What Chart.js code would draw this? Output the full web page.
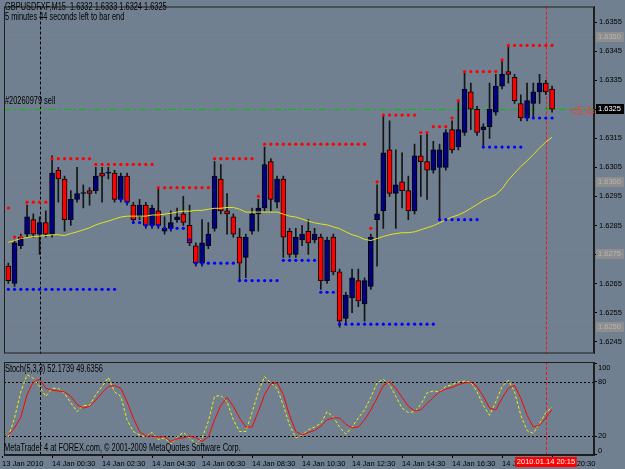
<!DOCTYPE html>
<html>
<head>
<meta charset="utf-8">
<script src="https://cdn.jsdelivr.net/npm/chart.js@4.4.1/dist/chart.umd.min.js"></script>
<style>
html, body { margin: 0; padding: 0; background: #708090; }
#wrap { position: relative; width: 625px; height: 469px; overflow: hidden; background: #708090; }
canvas { position: absolute; left: 0; }
#main { top: 0; }
#stoch { top: 358px; }
.t { position: absolute; font-family: 'Liberation Sans', sans-serif; font-size: 10px; line-height: 10px; color: #000;
     white-space: nowrap; transform: scaleX(0.74); transform-origin: 0 0; }
</style>
</head>
<body>
<div id="wrap">
  <canvas id="main" width="625" height="360"></canvas>
  <canvas id="stoch" width="625" height="111"></canvas>
  <div class="t" style="left:5px;top:2px">GBPUSDFXF,M15&nbsp; 1.6332 1.6333 1.6324 1.6325</div>
  <div class="t" style="left:5px;top:12px">5 minutes 44 seconds left to bar end</div>
  <div class="t" style="left:5px;top:96px">#20260979 sell</div>
  <div class="t" style="left:5px;top:364px">Stoch(5,3,3) 52.1739 49.6356</div>
  <div class="t" style="left:4px;top:443px">MetaTrader 4 at FOREX.com, © 2001-2009 MetaQuotes Software Corp.</div>
  <div style="position:absolute;left:570px;top:104px;width:24px;height:14px;overflow:hidden">
    <div class="t" style="left:0;top:0;font-size:13px;line-height:13px;color:#e84040;transform:scaleX(0.85)">&lt;5:44</div>
  </div>
</div>
<script>
// GBPUSD M15 candles, 13 Jan 22:45 .. 14 Jan 20:30
const opens = [1.6271,1.6265,1.6278,1.6282,1.6287,1.6282,1.6286,1.6282,1.6304,1.6301,
  1.6287,1.6294,1.6296,1.6297,1.6297,1.6303,1.6303,1.6303,1.6294,1.6302,
  1.6292,1.6288,1.6292,1.6285,1.6290,1.6283,1.6284,1.6287,1.6289,1.6285,
  1.6278,1.6272,1.6278,1.6284,1.6301,1.6290,1.6288,1.6281,1.6274,1.6283,
  1.6289,1.6291,1.6307,1.6293,1.6301,1.6283,1.6275,1.6280,1.6283,1.6280,
  1.6281,1.6266,1.6281,1.6269,1.6253,1.6260,1.6266,1.6258,1.6264,1.6287,
  1.6290,1.6311,1.6296,1.6300,1.6297,1.6290,1.6309,1.6307,1.6304,1.6305,
  1.6305,1.6318,1.6312,1.6317,1.6331,1.6325,1.6318,1.6319,1.6324,1.6333,
  1.6338,1.6336,1.6327,1.6322,1.6327,1.6331,1.6334,1.6332];
const highs = [1.6272,1.6280,1.6282,1.6292,1.6289,1.6288,1.6290,1.6309,1.6305,1.6302,
  1.6297,1.6305,1.6299,1.6298,1.6305,1.6305,1.6305,1.6304,1.6303,1.6303,
  1.6293,1.6294,1.6293,1.6292,1.6298,1.6288,1.6290,1.6291,1.6295,1.6292,
  1.6279,1.6287,1.6286,1.6307,1.6306,1.6296,1.6289,1.6284,1.6282,1.6291,
  1.6294,1.6312,1.6308,1.6302,1.6302,1.6284,1.6284,1.6285,1.6287,1.6284,
  1.6282,1.6281,1.6282,1.6270,1.6262,1.6270,1.6270,1.6267,1.6282,1.6299,
  1.6323,1.6321,1.6311,1.6310,1.6302,1.6313,1.6316,1.6317,1.6314,1.6313,
  1.6318,1.6321,1.6328,1.6338,1.6334,1.6326,1.6320,1.6334,1.6337,1.6342,
  1.6347,1.6337,1.6330,1.6334,1.6334,1.6337,1.6335,1.6333];
const lows = [1.6265,1.6264,1.6277,1.6281,1.6281,1.6275,1.6281,1.6281,1.6293,1.6283,
  1.6285,1.6293,1.6291,1.6292,1.6296,1.6293,1.6301,1.6293,1.6293,1.6292,
  1.6286,1.6287,1.6284,1.6284,1.6284,1.6282,1.6283,1.6286,1.6285,1.6278,
  1.6271,1.6271,1.6277,1.6283,1.6289,1.6282,1.6281,1.6266,1.6267,1.6282,
  1.6283,1.6290,1.6290,1.6291,1.6274,1.6274,1.6274,1.6278,1.6275,1.6279,
  1.6263,1.6265,1.6268,1.6250,1.6251,1.6255,1.6257,1.6252,1.6263,1.6271,
  1.6284,1.6295,1.6284,1.6291,1.6287,1.6289,1.6295,1.6294,1.6303,1.6287,
  1.6304,1.6310,1.6311,1.6316,1.6318,1.6316,1.6312,1.6315,1.6323,1.6332,
  1.6334,1.6327,1.6321,1.6321,1.6322,1.6327,1.6330,1.6324];
const closes = [1.6266,1.6279,1.6281,1.6288,1.6282,1.6286,1.6282,1.6303,1.6301,1.6287,
  1.6294,1.6296,1.6296,1.6296,1.6302,1.6302,1.6303,1.6294,1.6302,1.6293,
  1.6287,1.6292,1.6285,1.6291,1.6285,1.6284,1.6286,1.6288,1.6286,1.6279,
  1.6272,1.6279,1.6282,1.6302,1.6290,1.6289,1.6282,1.6272,1.6281,1.6289,
  1.6291,1.6306,1.6294,1.6301,1.6281,1.6275,1.6281,1.6282,1.6279,1.6282,
  1.6266,1.6280,1.6269,1.6252,1.6261,1.6267,1.6259,1.6266,1.6281,1.6289,
  1.6310,1.6296,1.6299,1.6297,1.6290,1.6309,1.6307,1.6304,1.6311,1.6311,
  1.6317,1.6311,1.6318,1.6332,1.6325,1.6317,1.6319,1.6325,1.6333,1.6337,
  1.6337,1.6328,1.6322,1.6328,1.6331,1.6334,1.6331,1.6325];

// yellow moving average
const maValues = [1.62792,1.62798,1.62805,1.62808,1.62812,1.62813,1.62815,1.62818,1.62818,1.62815,
  1.62822,1.62828,1.62835,1.62842,1.62852,1.62859,1.62865,1.62872,1.62879,1.62882,
  1.62882,1.62882,1.62882,1.62886,1.62886,1.62889,1.62892,1.62896,1.62899,1.62899,
  1.62902,1.62902,1.62906,1.62909,1.62909,1.62912,1.62912,1.62906,1.62896,1.62896,
  1.62896,1.62896,1.62896,1.62896,1.62889,1.62882,1.62879,1.62872,1.62865,1.62859,
  1.62855,1.62852,1.62845,1.62839,1.62828,1.62818,1.62812,1.62802,1.62798,1.62805,
  1.62812,1.62818,1.62822,1.62825,1.62825,1.62828,1.62835,1.62842,1.62849,1.62859,
  1.62869,1.62879,1.62886,1.62896,1.62909,1.62922,1.62936,1.62946,1.62956,1.62976,
  1.63006,1.63030,1.63053,1.63073,1.63094,1.63117,1.63137,1.63154];

// red (upper) and blue (lower) dotted levels, one value per bar
const resistance = [1.6291,1.6281,1.6281,1.6293,1.6293,1.6293,1.6293,1.6308,1.6308,1.6308,
  1.6308,1.6308,1.6308,1.6308,1.6306,1.6306,1.6306,1.6306,1.6306,1.6306,
  1.6306,1.6306,1.6306,1.6306,1.6298,1.6298,1.6298,1.6298,1.6298,1.6298,
  1.6298,1.6298,1.6298,1.6308,1.6308,1.6308,1.6308,1.6308,1.6308,1.6308,
  1.6295,1.6313,1.6313,1.6313,1.6313,1.6313,1.6313,1.6313,1.6313,1.6313,
  1.6313,1.6313,1.6313,1.6313,1.6313,1.6313,1.6313,1.6313,1.6284,1.6300,
  1.6323,1.6323,1.6323,1.6323,1.6323,1.6323,1.6317,1.6317,1.6319,1.6319,
  1.6319,1.6322,1.6328,1.6338,1.6338,1.6338,1.6338,1.6338,1.6338,1.6342,
  1.6347,1.6347,1.6347,1.6347,1.6347,1.6347,1.6347,1.6347];
const support = [1.6263,1.6263,1.6263,1.6263,1.6263,1.6263,1.6263,1.6263,1.6263,1.6263,
  1.6263,1.6263,1.6263,1.6263,1.6263,1.6263,1.6263,1.6263,1.6294,1.6293,
  1.6286,1.6286,1.6285,1.6285,1.6285,1.6284,1.6284,1.6284,1.6284,1.6280,
  1.6272,1.6272,1.6272,1.6272,1.6272,1.6272,1.6272,1.6266,1.6266,1.6266,
  1.6266,1.6266,1.6266,1.6266,1.6273,1.6273,1.6273,1.6273,1.6273,1.6273,
  1.6262,1.6262,1.6262,1.6251,1.6251,1.6251,1.6251,1.6251,1.6251,1.6251,
  1.6251,1.6251,1.6251,1.6251,1.6251,1.6251,1.6251,1.6251,1.6251,1.6287,
  1.6287,1.6287,1.6287,1.6287,1.6287,1.6287,1.6312,1.6312,1.6312,1.6312,
  1.6312,1.6312,1.6312,1.6322,1.6322,1.6322,1.6322,1.6322];

// Stoch(5,3,3)
const stochMain = [19,40,69,88,84,75,64,73,73,67,
  57,47,54,54,66,75,85,69,64,38,
  25,21,19,24,16,18,11,19,24,18,
  11,18,36,64,65,58,38,25,25,46,
  69,86,79,73,54,32,18,21,27,30,
  34,47,41,30,22,30,40,49,63,79,
  83,77,64,51,46,47,55,68,70,69,
  75,77,80,81,80,69,54,43,58,75,
  82,69,43,26,23,34,46,52.17];
const stochSignal = [21,29,41,66,80,83,73,71,70,69,
  64,55,51,53,60,68,75,76,73,58,
  40,25,20,20,19,19,14,17,18,20,
  18,14,19,38,54,63,53,40,30,30,
  47,66,78,79,66,43,25,21,24,26,
  31,38,40,40,33,29,30,38,49,62,
  76,80,73,63,53,48,49,56,63,69,
  72,74,77,79,80,75,64,51,49,62,
  73,76,62,43,30,32,40,49.64];

const priceTicks = [1.6245,1.6255,1.6265,1.6275,1.6285,1.6295,1.6305,1.6315,1.6325,1.6335,1.6345,1.6355];
const markedLevels = [1.6350,1.6300,1.6275,1.6250];
const orderPrice = 1.6325;
const stochTicks = [0,20,80,100];
const stochLevels = [20,80];
const timeTickIdx = [-1,7,15,23,31,39,47,55,63,71,79,87];
const timeLabels = ['13 Jan 2010','14 Jan 00:30','14 Jan 02:30','14 Jan 04:30','14 Jan 06:30','14 Jan 08:30',
  '14 Jan 10:30','14 Jan 12:30','14 Jan 14:30','14 Jan 16:30','14 Jan 18:30','14 Jan 20:30'];
const daySepIdx = 5;      // 14 Jan 00:00
const cursorIdx = 86;     // 20:15
const cursorLabel = '2010.01.14 20:15';

const xMin = -0.69, xMax = 93.71;
const FONT = "'Liberation Sans', sans-serif";
const idx = opens.map((_, i) => i);

function vline(ctx, a, px, color, dash) {
  ctx.strokeStyle = color; ctx.setLineDash(dash); ctx.lineWidth = 1;
  ctx.beginPath(); ctx.moveTo(px, a.top); ctx.lineTo(px, a.bottom); ctx.stroke();
}
function hline(ctx, a, py, color, dash) {
  ctx.strokeStyle = color; ctx.setLineDash(dash); ctx.lineWidth = 1;
  ctx.beginPath(); ctx.moveTo(a.left, py); ctx.lineTo(a.right, py); ctx.stroke();
}

const mainDecor = {
  id: 'mainDecor',
  beforeDatasetsDraw(chart) {
    const { ctx, chartArea: a, scales: { x, y } } = chart;
    ctx.save();
    markedLevels.forEach(v => hline(ctx, a, Math.round(y.getPixelForValue(v)) + 0.5, 'rgba(140,100,105,0.8)', [1, 3]));
    vline(ctx, a, Math.round(x.getPixelForValue(daySepIdx)) + 0.5, '#000', [3, 2]);
    vline(ctx, a, Math.round(x.getPixelForValue(cursorIdx)) + 0.5, '#ff1010', [3, 2]);
    hline(ctx, a, Math.round(y.getPixelForValue(orderPrice)) + 0.5, '#00c000', [7, 3, 2, 3]);
    ctx.restore();
  },
  afterDraw(chart) {
    const { ctx, chartArea: a, scales: { y } } = chart;
    ctx.save();
    ctx.strokeStyle = '#1e1e1e'; ctx.lineWidth = 1; ctx.setLineDash([]);
    ctx.strokeRect(a.left + 0.5, a.top + 0.5, a.right - a.left - 1, a.bottom - a.top - 1);
    ctx.font = '7.5px ' + FONT; ctx.textBaseline = 'middle'; ctx.textAlign = 'left';
    markedLevels.forEach(v => {
      const py = Math.round(y.getPixelForValue(v));
      ctx.fillStyle = '#8e8e8e'; ctx.fillRect(a.right + 2, py - 5, 28, 10);
      ctx.fillStyle = '#b4b4b4'; ctx.fillText(v.toFixed(4), a.right + 4, py);
    });
    const py = Math.round(y.getPixelForValue(closes[closes.length - 1]));
    ctx.fillStyle = '#000'; ctx.fillRect(a.right + 2, py - 5, 28, 10);
    ctx.fillStyle = '#fff'; ctx.fillText(closes[closes.length - 1].toFixed(4), a.right + 4, py);
    ctx.restore();
  }
};

new Chart(document.getElementById('main'), {
  type: 'bar',
  data: {
    datasets: [
      { type: 'scatter', data: idx.map(i => ({ x: i, y: resistance[i] })), pointRadius: 1.6, pointBorderWidth: 0,
        pointBackgroundColor: '#ff0000', order: 1 },
      { type: 'scatter', data: idx.map(i => ({ x: i, y: support[i] })), pointRadius: 1.6, pointBorderWidth: 0,
        pointBackgroundColor: '#0000ff', order: 1 },
      { type: 'line', data: idx.map(i => ({ x: i, y: maValues[i] })), borderColor: '#e4e41c', borderWidth: 1,
        pointRadius: 0, tension: 0, order: 2 },
      { type: 'bar', data: idx.map(i => ({ x: i, y: [opens[i], closes[i]] })),
        backgroundColor: idx.map(i => closes[i] >= opens[i] ? '#000080' : '#ff0000'),
        borderColor: '#000', borderWidth: 1, borderSkipped: false, barThickness: 5, minBarLength: 1,
        grouped: false, order: 3 },
      { type: 'bar', data: idx.map(i => ({ x: i, y: [lows[i], highs[i]] })), backgroundColor: '#141414',
        barThickness: 1, grouped: false, order: 4 }
    ]
  },
  options: {
    responsive: false,
    animation: false,
    events: [],
    plugins: { legend: { display: false }, tooltip: { enabled: false } },
    layout: { padding: { left: 4, top: 2, right: 0, bottom: 2 } },
    scales: {
      x: { type: 'linear', min: xMin, max: xMax, offset: false, display: false },
      y: {
        position: 'right', min: 1.62409, max: 1.63604,
        afterBuildTicks: s => { s.ticks = priceTicks.map(v => ({ value: v })); },
        afterFit: s => { s.width = 31; },
        ticks: { autoSkip: false, callback: v => v.toFixed(4), color: '#000', font: { family: FONT, size: 7.5 }, padding: 2 },
        grid: { drawOnChartArea: false, tickLength: 3, tickColor: '#000' },
        border: { color: '#1e1e1e' }
      }
    }
  },
  plugins: [mainDecor]
});

const stochDecor = {
  id: 'stochDecor',
  beforeDatasetsDraw(chart) {
    const { ctx, chartArea: a, scales: { x, y } } = chart;
    ctx.save();
    stochLevels.forEach(v => hline(ctx, a, Math.round(y.getPixelForValue(v)) + 0.5, '#000', [2, 2]));
    vline(ctx, a, Math.round(x.getPixelForValue(daySepIdx)) + 0.5, '#000', [3, 2]);
    vline(ctx, a, Math.round(x.getPixelForValue(cursorIdx)) + 0.5, '#ff1010', [3, 2]);
    ctx.restore();
  },
  afterDraw(chart) {
    const { ctx, chartArea: a, scales: { x, y } } = chart;
    ctx.save();
    ctx.strokeStyle = '#1e1e1e'; ctx.lineWidth = 1; ctx.setLineDash([]);
    ctx.strokeRect(a.left + 0.5, a.top + 0.5, a.right - a.left - 1, a.bottom - a.top - 1);
    ctx.font = '7.5px ' + FONT;
    // level labels on the right, kept inside the panel like the terminal does
    ctx.fillStyle = '#000'; ctx.textAlign = 'left'; ctx.textBaseline = 'middle';
    stochTicks.forEach(v => {
      const py = Math.min(Math.max(y.getPixelForValue(v), a.top + 6), a.bottom - 4);
      ctx.fillText(String(v), a.right + 4, py);
    });
    const px = Math.round(x.getPixelForValue(cursorIdx));
    const w = ctx.measureText(cursorLabel).width + 3;
    ctx.fillStyle = '#ff0000'; ctx.fillRect(px - w / 2, a.bottom + 2, w, 10);
    ctx.fillStyle = '#fff'; ctx.textAlign = 'center';
    ctx.fillText(cursorLabel, px, a.bottom + 7);
    ctx.restore();
  }
};

new Chart(document.getElementById('stoch'), {
  type: 'line',
  data: {
    datasets: [
      { data: idx.map(i => ({ x: i, y: stochSignal[i] })), borderColor: '#ff0000', borderWidth: 1, pointRadius: 0, tension: 0 },
      { data: idx.map(i => ({ x: i, y: stochMain[i] })), borderColor: '#f0f000', borderWidth: 1, borderDash: [3, 2],
        pointRadius: 0, tension: 0 }
    ]
  },
  options: {
    responsive: false,
    animation: false,
    events: [],
    plugins: { legend: { display: false }, tooltip: { enabled: false } },
    layout: { padding: { left: 4, top: 4, right: 0, bottom: 0 } },
    scales: {
      x: {
        type: 'linear', min: xMin, max: xMax, offset: false,
        afterBuildTicks: s => { s.ticks = timeTickIdx.map(v => ({ value: v })); },
        afterFit: s => { s.height = 14; },
        ticks: { autoSkip: false, maxRotation: 0, align: 'start', padding: 1, color: '#000',
          font: { family: FONT, size: 7.5 }, callback: (v, k) => timeLabels[k] },
        grid: { drawOnChartArea: false, tickLength: 3, tickColor: '#000' },
        border: { color: '#1e1e1e' }
      },
      y: {
        position: 'right', min: -1.1, max: 102.2,
        afterBuildTicks: s => { s.ticks = stochTicks.map(v => ({ value: v })); },
        afterFit: s => { s.width = 31; },
        ticks: { display: false },
        grid: { drawOnChartArea: false, tickLength: 3, tickColor: '#000' },
        border: { color: '#1e1e1e' }
      }
    }
  },
  plugins: [stochDecor]
});
</script>
</body>
</html>
